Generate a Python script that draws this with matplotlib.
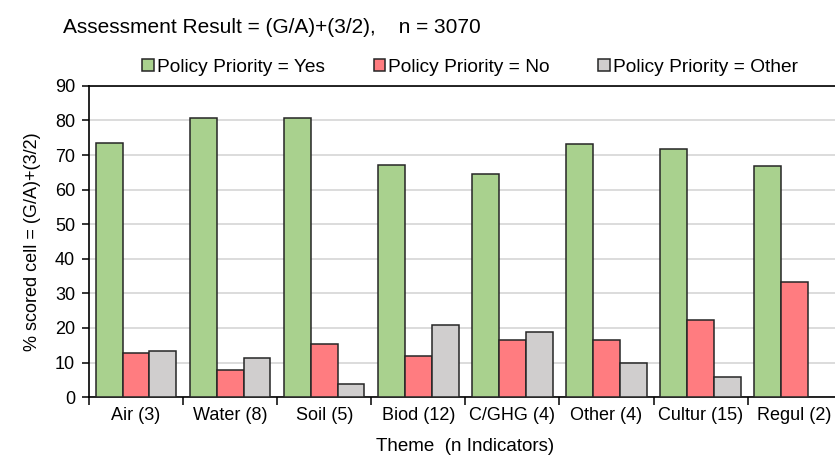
import numpy as np
import matplotlib.pyplot as plt

plt.rcParams["font.family"] = ["Liberation Sans", "DejaVu Sans"]

themes = ["Air (3)", "Water (8)", "Soil (5)", "Biod (12)", "C/GHG (4)",
          "Other (4)", "Cultur (15)", "Regul (2)"]
yes_vals = [73.6, 80.6, 80.6, 67.0, 64.4, 73.3, 71.7, 66.7]
no_vals = [12.9, 7.8, 15.3, 11.8, 16.4, 16.4, 22.3, 33.3]
other_vals = [13.3, 11.3, 3.8, 20.9, 18.7, 9.9, 5.7, 0.0]

series = [("Policy Priority = Yes", yes_vals, "#a9d18e"),
          ("Policy Priority = No", no_vals, "#ff7c80"),
          ("Policy Priority = Other", other_vals, "#d0cece")]

fig = plt.figure(figsize=(8.35, 4.57), dpi=100)
ax = fig.add_axes([0.1066, 0.131, 0.9014, 0.681])

x = np.arange(len(themes))
w = 0.285
for i, (name, vals, col) in enumerate(series):
    ax.bar(x + (i - 1) * w, vals, w, color=col, edgecolor="#262626",
           linewidth=1.1, label=name, zorder=3)

ax.set_xlim(-0.5, len(themes) - 0.5)
ax.set_ylim(0, 90)
ax.set_yticks(range(0, 91, 10))
ax.yaxis.grid(True, color="#d9d9d9", linewidth=1.3, zorder=0)
ax.set_xticks(x)
ax.set_xticklabels(themes, fontsize=13)
ax.tick_params(axis="x", length=0, pad=7)
ax.set_xticks(np.arange(-0.5, len(themes), 1), minor=True)
ax.tick_params(axis="x", which="minor", length=6, width=1.1, direction="out")
ax.tick_params(axis="y", labelsize=13, length=5, width=1.1, direction="out", pad=5)
for s in ax.spines.values():
    s.set_linewidth(1.2)
ax.spines["right"].set_visible(False)

ax.set_ylabel("% scored cell = (G/A)+(3/2)", fontsize=13, labelpad=10)
ax.set_xlabel("Theme  (n Indicators)", fontsize=13.5, labelpad=10)

fig.text(0.076, 0.94, "Assessment Result = (G/A)+(3/2),    n = 3070",
         fontsize=15, va="center", ha="left")
fig.legend(loc="center", bbox_to_anchor=(0.563, 0.852), ncol=3, frameon=False,
           fontsize=13.8, handlelength=0.6, handleheight=0.6, handletextpad=0.15,
           columnspacing=2.55)

fig.savefig("out.png", dpi=100)
